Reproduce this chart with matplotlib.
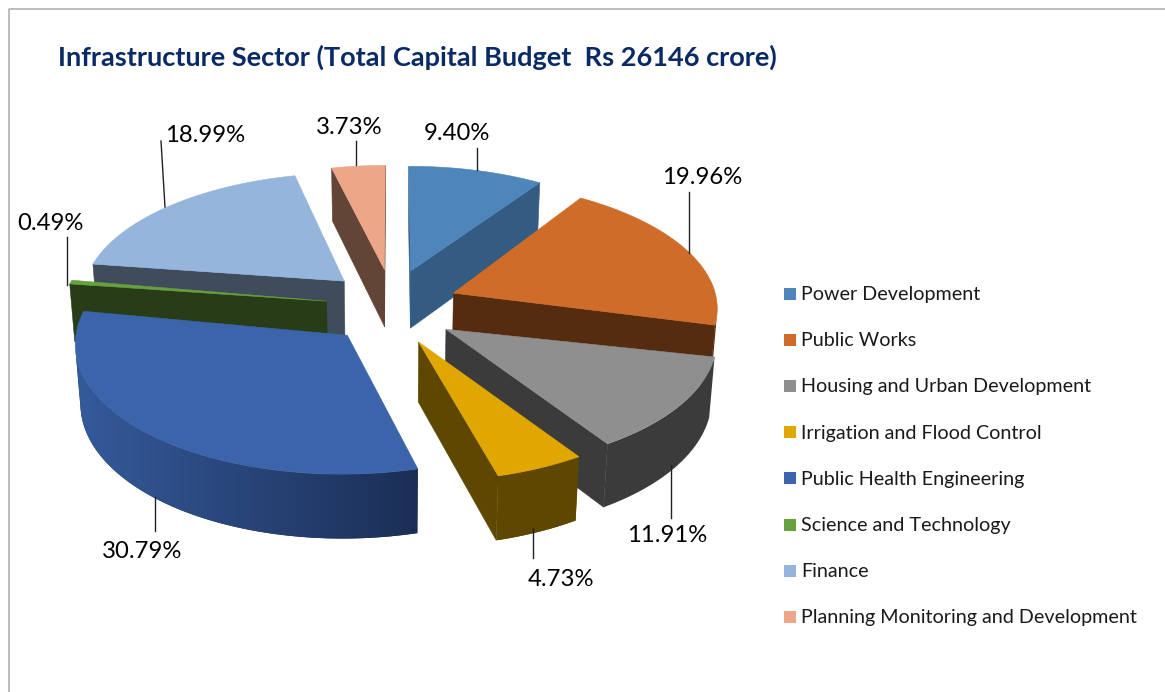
import numpy as np
import matplotlib
matplotlib.use("Agg")
import matplotlib.pyplot as plt
from matplotlib.colors import to_rgb
from matplotlib.patches import Polygon, Rectangle

plt.rcParams["font.family"] = ["Lato", "DejaVu Sans"]

# Data
sectors = ["Power Development", "Public Works", "Housing and Urban Development",
           "Irrigation and Flood Control", "Public Health Engineering",
           "Science and Technology", "Finance", "Planning Monitoring and Development"]
shares = [9.40, 19.96, 11.91, 4.73, 30.79, 0.49, 18.99, 3.73]
top_colors = ["#4E86BB", "#CF6C29", "#8F8F8F", "#DFA700",
              "#3B64AA", "#66A03F", "#95B5DC", "#EDA688"]
side_colors = ["#345C82", "#552C10", "#3B3B3B", "#5E4700",
               "#1B2E55", "#283C18", "#3E4C5B", "#634538"]
title = "Infrastructure Sector (Total Capital Budget  Rs 26146 crore)"

# Label centres and leader lines, in pixels
label_xy = [(457, 134), (702, 178), (667, 535), (561, 579),
            (142, 551), (50, 224), (205, 135), (349, 128)]
leader_x = [(477, 477), (689, 689), (671, 671), (533, 533),
            (155, 155), (67, 67), (161, 165), (356, 356)]
leader_y = [(148, 170), (192, 253), (465, 518), (528, 558),
            (497, 531), (237, 285), (141, 207), (141, 165)]

# Projection of the pie
CX, CY = 392, 306
RAD = 265
ELEV = np.deg2rad(28.4)
CAM = 7.5
DEPTH = 0.255
EXPLODE = 0.25
RIM_LIFT = 0.035   # rim sits a little further back than the apex
APEX_Y = 1.2


def project(x, y, z=0.0):
    d = y * np.cos(ELEV) - z * np.sin(ELEV)
    s = CAM / (CAM + d)
    return (CX + RAD * x * s, CY - RAD * (y * np.sin(ELEV) + z * np.cos(ELEV)) * s)


def facing(p):
    # negative shoelace = looking at the camera, pixel y points down
    p = np.array(p)
    return np.sum(p[:, 0] * np.roll(p[:, 1], -1) - np.roll(p[:, 0], -1) * p[:, 1]) < 0


def mix(a, b, f):
    a, b = np.array(to_rgb(a)), np.array(to_rgb(b))
    return a + (b - a) * f


def wall_color(i, deg):
    # outer wall brightens towards the left of the pie
    return mix(side_colors[i], top_colors[i], np.clip((deg - 165) / 115, 0, 1))


fig = plt.figure(figsize=(11.65, 6.92), dpi=100)
ax = fig.add_axes([0, 0, 1, 1])

# frame of the original chart area
ax.plot([8.5, 8.5, 1165], [692, 8.5, 8.5], color="#ABABAB", lw=1.1)

ax.text(58, 57, title, fontsize=19.5, fontweight="bold", color="#0A2A66",
        ha="left", va="center")

edges = np.cumsum([0] + shares) / sum(shares) * 360
mids = (edges[:-1] + edges[1:]) / 2

# back to front
order = np.argsort(-np.cos(np.deg2rad(mids)))
for z, i in enumerate(order):
    zo = 1 + z
    mid = np.deg2rad(mids[i])
    ox, oy = EXPLODE * np.sin(mid), EXPLODE * np.cos(mid)
    th = np.deg2rad(np.linspace(edges[i], edges[i + 1], max(3, int(shares[i] * 3.6))))
    xs = np.r_[ox, ox + np.sin(th)]
    ys = np.r_[oy * APEX_Y, oy + np.cos(th) + RIM_LIFT]
    n = len(xs)

    # straight cut faces
    for k, j in [(0, 1), (n - 1, 0)]:
        quad = [project(xs[k], ys[k]), project(xs[j], ys[j]),
                project(xs[j], ys[j], -DEPTH), project(xs[k], ys[k], -DEPTH)]
        if facing(quad):
            ax.add_patch(Polygon(quad, closed=True, facecolor=side_colors[i],
                                 edgecolor=side_colors[i], lw=0.4, zorder=zo))

    # outer wall, the rim parts that look at the camera
    seen = []
    for k in range(1, n - 1):
        quad = [project(xs[k], ys[k]), project(xs[k + 1], ys[k + 1]),
                project(xs[k + 1], ys[k + 1], -DEPTH), project(xs[k], ys[k], -DEPTH)]
        if facing(quad):
            seen += [k, k + 1]
    if seen:
        a, b = min(seen), max(seen)
        rim = list(range(a, b + 1))
        wall = [project(xs[k], ys[k]) for k in rim] + \
               [project(xs[k], ys[k], -DEPTH) for k in rim[::-1]]
        c0 = wall_color(i, np.rad2deg(th[a - 1]))
        c1 = wall_color(i, np.rad2deg(th[b - 1]))
        patch = Polygon(wall, closed=True, facecolor=c0, edgecolor="none", zorder=zo)
        ax.add_patch(patch)
        if not np.allclose(c0, c1):
            px = np.array(wall)[:, 0]
            ramp = np.linspace(0, 1, 256)[None, :, None] * (c1 - c0)[None, None, :] + c0
            im = ax.imshow(ramp, extent=(px[0], px[len(rim) - 1], 692, 0), aspect="auto",
                           zorder=zo, interpolation="bilinear")
            im.set_clip_path(patch)

    top = [project(a, b) for a, b in zip(xs, ys)]
    ax.add_patch(Polygon(top, closed=True, facecolor=top_colors[i],
                         edgecolor=top_colors[i], lw=0.4, zorder=zo))

# data labels and leaders
for i in range(len(shares)):
    ax.plot(leader_x[i], leader_y[i], color="#222222", lw=1.0, zorder=20)
    ax.text(label_xy[i][0], label_xy[i][1], f"{shares[i]:.2f}%", fontsize=17.2,
            color="black", ha="center", va="center", zorder=21)

# legend
for i, name in enumerate(sectors):
    y = 293.5 + i * 46.2
    ax.add_patch(Rectangle((784, y - 6), 12, 12, facecolor=top_colors[i], edgecolor="none"))
    ax.text(801, y + 1, name, fontsize=14.2, color="#1A1A1A", ha="left", va="center")

ax.set_xlim(0, 1165)
ax.set_ylim(692, 0)
ax.axis("off")

fig.savefig("out.png", dpi=100)
